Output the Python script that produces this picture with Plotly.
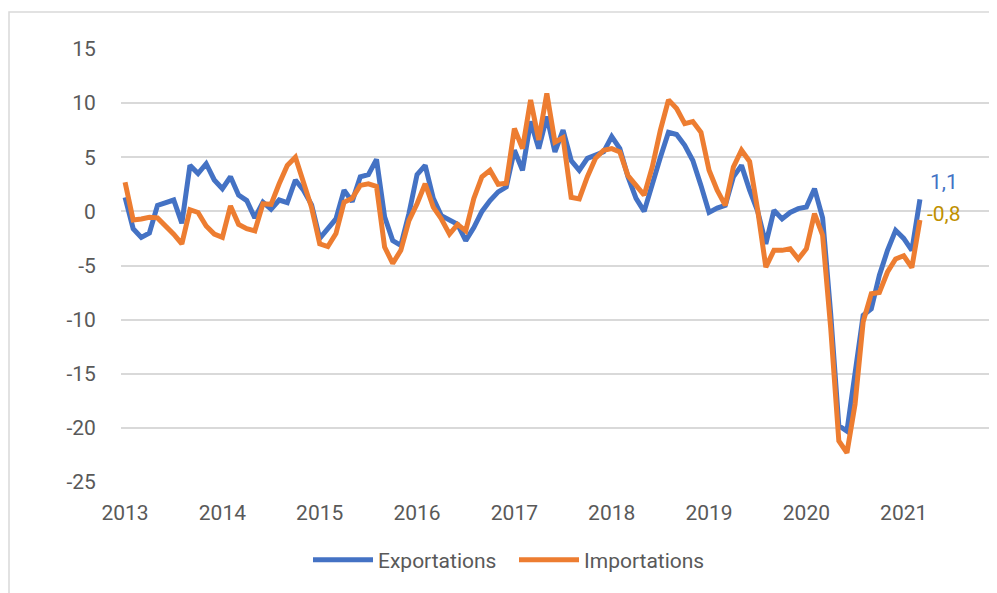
import plotly.graph_objects as go

# Monthly data, Jan 2013 .. Mar 2021 (index 0 = Jan 2013)
exportations = [
    1.3, -1.6, -2.4, -2.0, 0.55, 0.85, 1.05, -1.1, 4.25, 3.5, 4.4, 2.9,      # 2013
    2.1, 3.2, 1.5, 1.0, -0.6, 0.85, 0.2, 1.05, 0.8, 2.9, 1.95, 0.6,          # 2014
    -2.5, -1.6, -0.7, 1.95, 0.9, 3.2, 3.4, 4.8, -0.5, -2.7, -3.15, -0.2,     # 2015
    3.4, 4.25, 1.2, -0.4, -0.85, -1.2, -2.7, -1.5, 0.0, 1.0, 1.8, 2.25,      # 2016
    5.65, 3.8, 8.3, 5.8, 8.75, 5.5, 7.5, 4.7, 3.8, 4.9, 5.2, 5.5,            # 2017
    6.9, 5.8, 3.2, 1.2, 0.0, 2.6, 5.0, 7.3, 7.1, 6.1, 4.7, 2.4,              # 2018
    -0.1, 0.3, 0.55, 3.2, 4.25, 1.95, 0.0, -3.0, 0.1, -0.7, -0.1, 0.25,      # 2019
    0.4, 2.1, -0.6, -9.5, -19.8, -20.3, -15.0, -9.6, -9.0, -5.9, -3.6, -1.75,  # 2020
    -2.5, -3.6, 1.1,                                                         # 2021
]
importations = [
    2.7, -0.8, -0.7, -0.55, -0.6, -1.3, -2.1, -3.0, 0.15, -0.1, -1.35, -2.1,  # 2013
    -2.4, 0.5, -1.2, -1.6, -1.8, 0.7, 0.65, 2.55, 4.25, 5.0, 2.8, 0.35,       # 2014
    -3.0, -3.25, -2.05, 0.85, 1.2, 2.4, 2.55, 2.3, -3.3, -4.8, -3.6, -0.85,   # 2015
    0.7, 2.55, 0.4, -0.7, -2.1, -1.2, -1.8, 1.2, 3.2, 3.8, 2.5, 2.6,          # 2016
    7.65, 5.8, 10.3, 6.6, 10.9, 6.4, 6.8, 1.3, 1.15, 3.2, 4.9, 5.65,          # 2017
    5.8, 5.5, 3.3, 2.4, 1.5, 4.1, 7.5, 10.3, 9.5, 8.1, 8.3, 7.3,              # 2018
    3.8, 1.95, 0.55, 4.1, 5.65, 4.6, 0.1, -5.15, -3.6, -3.6, -3.45, -4.4,     # 2019
    -3.45, -0.2, -2.2, -10.8, -21.2, -22.3, -17.8, -10.2, -7.6, -7.5, -5.6, -4.4,  # 2020
    -4.1, -5.2, -0.8,                                                         # 2021
]
month_index = list(range(len(exportations)))

year_labels = ["2013", "2014", "2015", "2016", "2017", "2018", "2019", "2020", "2021"]
year_positions = [12 * k for k in range(len(year_labels))]
year_boundaries = [12 * k - 0.5 for k in range(len(year_labels) + 1)]

y_tick_vals = [15, 10, 5, 0, -5, -10, -15, -20, -25]
y_tick_text = ["15", "10", "5", "0", "-5", "-10", "-15", "-20", "-25"]

last_export_label = "1,1"
last_import_label = "-0,8"

BLUE = "#4472C4"
ORANGE = "#ED7D31"
GOLD = "#BF9000"
GRID = "#D9D9D9"
TXT = "#595959"
FONT = "Roboto, Arial, sans-serif"
FS = 21

x_range = [-0.5, 107.5]
y_range = [-25, 15]

# The page body has an 8px default margin, so the figure is 8px smaller
W, H = 989, 585
ML, MT, PW, PH = 113, 41, 876, 433

fig = go.Figure()
fig.add_trace(go.Scatter(x=month_index, y=exportations, mode="lines", name="Exportations",
                         line=dict(color=BLUE, width=5)))
fig.add_trace(go.Scatter(x=month_index, y=importations, mode="lines", name="Importations",
                         line=dict(color=ORANGE, width=5)))

fig.add_annotation(x=month_index[-1], y=exportations[-1], text=last_export_label,
                   showarrow=False, xanchor="left", yanchor="middle", xshift=8, yshift=17,
                   font=dict(family=FONT, size=FS, color=BLUE))
fig.add_annotation(x=month_index[-1], y=importations[-1], text=last_import_label,
                   showarrow=False, xanchor="left", yanchor="middle", xshift=5, yshift=6,
                   font=dict(family=FONT, size=FS, color=GOLD))

# outer chart frame
fig.add_shape(type="rect", xref="paper", yref="paper",
              x0=(1 - ML) / PW, x1=1.1, y0=-0.4, y1=(PH + MT - 4) / PH,
              line=dict(color=GRID, width=1.5), fillcolor="rgba(0,0,0,0)", layer="below")

fig.update_layout(
    width=W, height=H,
    margin=dict(l=ML, r=W - ML - PW, t=MT, b=H - MT - PH),
    paper_bgcolor="white", plot_bgcolor="white",
    font=dict(family=FONT, size=FS, color=TXT),
    showlegend=True,
    legend=dict(orientation="h", x=(308 - 121) / PW, xanchor="left",
                y=-0.133, yanchor="top", itemwidth=60,
                entrywidth=131, entrywidthmode="pixels",
                font=dict(family=FONT, size=FS, color=TXT),
                bgcolor="rgba(0,0,0,0)"),
    xaxis=dict(range=x_range, tickvals=year_positions, ticktext=year_labels,
               showgrid=False, zeroline=False, showline=False,
               ticks="outside", ticklen=12, tickcolor="rgba(0,0,0,0)",
               tickfont=dict(family=FONT, size=FS, color=TXT), fixedrange=True),
    xaxis2=dict(range=x_range, overlaying="x", anchor="free",
                position=(0 - y_range[0]) / (y_range[1] - y_range[0]),
                side="bottom", tickvals=year_boundaries, showticklabels=False,
                ticks="outside", ticklen=5, tickwidth=1.5, tickcolor=GRID,
                showgrid=False, zeroline=False, showline=False),
    yaxis=dict(range=y_range, tickvals=y_tick_vals, ticktext=y_tick_text,
               showgrid=True, gridcolor=GRID, gridwidth=2,
               zeroline=True, zerolinecolor=GRID, zerolinewidth=2,
               showline=False, ticks="outside", ticklen=20, tickcolor="rgba(0,0,0,0)",
               tickfont=dict(family=FONT, size=FS, color=TXT)),
)

fig.write_html("out.html")
